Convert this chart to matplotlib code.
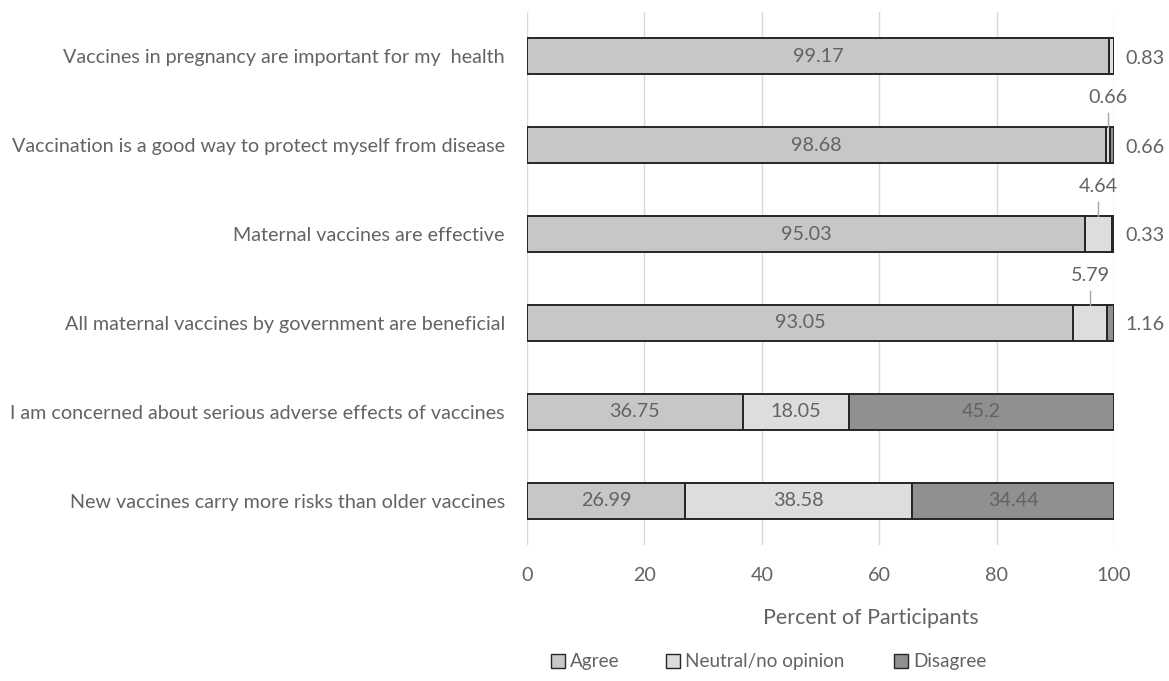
import matplotlib
matplotlib.use("Agg")
import matplotlib.pyplot as plt
from matplotlib.patches import Patch

categories = [
    "Vaccines in pregnancy are important for my  health",
    "Vaccination is a good way to protect myself from disease",
    "Maternal vaccines are effective",
    "All maternal vaccines by government are beneficial",
    "I am concerned about serious adverse effects of vaccines",
    "New vaccines carry more risks than older vaccines",
]
agree = [99.17, 98.68, 95.03, 93.05, 36.75, 26.99]
neutral = [0.83, 0.66, 4.64, 5.79, 18.05, 38.58]
disagree = [0.0, 0.66, 0.33, 1.16, 45.2, 34.44]
series_names = ["Agree", "Neutral/no opinion", "Disagree"]
xticks = [0, 20, 40, 60, 80, 100]

colors = ["#c6c7c8", "#dcdddd", "#8f9091"]
txt = "#636363"
plt.rcParams['font.family'] = ['Lato', 'DejaVu Sans']

fig = plt.figure(figsize=(11.69, 6.81), dpi=100)
ax = fig.add_axes([0.4508, 0.1997, 0.953 - 0.4508, 0.9824 - 0.1997])

y = list(range(len(categories)))
h = 0.405
lefts = [0.0] * len(categories)
for vals, col in zip([agree, neutral, disagree], colors):
    ax.barh(y, vals, left=lefts, height=h, color=col, edgecolor="#262626", linewidth=1.4, zorder=3)
    lefts = [l + v for l, v in zip(lefts, vals)]

fs = 14.2
for i in range(len(categories)):
    ax.text(agree[i] / 2, i, f"{agree[i]:g}", ha="center", va="center", color=txt, fontsize=fs, zorder=4)
    small_right = []
    if neutral[i] >= 10:
        ax.text(agree[i] + neutral[i] / 2, i, f"{neutral[i]:g}", ha="center", va="center", color=txt, fontsize=fs, zorder=4)
    elif disagree[i] == 0:
        small_right.append(neutral[i])
    else:
        cx = agree[i] + neutral[i] / 2
        ax.plot([cx, cx], [i - h / 2, i - h / 2 - 0.16], color="#a6a6a6", lw=1, zorder=4, clip_on=False)
        ax.text(cx, i - h / 2 - 0.33, f"{neutral[i]:g}", ha="center", va="center", color=txt, fontsize=fs)
    if disagree[i] >= 10:
        ax.text(agree[i] + neutral[i] + disagree[i] / 2, i, f"{disagree[i]:g}", ha="center", va="center", color=txt, fontsize=fs, zorder=4)
    elif disagree[i] > 0:
        small_right.append(disagree[i])
    for v in small_right:
        ax.text(102.0, i + 0.02, f"{v:g}", ha="left", va="center", color=txt, fontsize=fs, clip_on=False)

ax.set_ylim(len(categories) - 0.5, -0.5)
ax.set_xlim(0, 100)
ax.set_yticks(y)
ax.set_yticklabels(categories, color=txt, fontsize=fs)
ax.set_xticks(xticks)
ax.set_xticklabels([str(t) for t in xticks], color=txt, fontsize=fs)
ax.tick_params(axis="both", length=0)
ax.tick_params(axis="y", pad=16)
ax.tick_params(axis="x", pad=16)
ax.grid(axis="x", color="#d9d9d9", lw=1, zorder=0)
for s in ax.spines.values():
    s.set_visible(False)
ax.set_xlabel("Percent of Participants", color=txt, fontsize=15.4)
ax.xaxis.set_label_coords(0.586, -0.118)

legend_x = [551, 666, 894]
for name, c, lx in zip(series_names, colors, legend_x):
    fig.legend([Patch(facecolor=c, edgecolor="#262626", lw=1)], [name], loc="center left",
               bbox_to_anchor=(lx / 1169, 0.028), frameon=False, fontsize=13.6, labelcolor=txt,
               handlelength=0.75, handleheight=0.75, handletextpad=0.25, borderpad=0, borderaxespad=0)

fig.savefig("out.png", dpi=100)
